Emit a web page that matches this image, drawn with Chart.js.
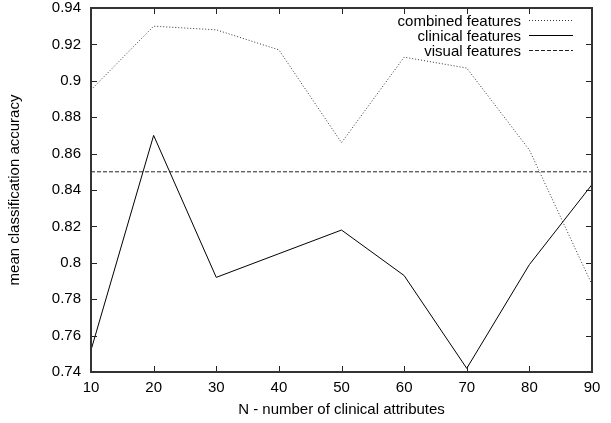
<!DOCTYPE html>
<html>
<head>
<meta charset="utf-8">
<script src="https://cdn.jsdelivr.net/npm/chart.js@4"></script>
<style>
  html, body { margin: 0; padding: 0; background: #fff; }
  #myChart { display: block; }
</style>
</head>
<body>
<canvas id="myChart" width="611" height="423"></canvas>
<script>
// values
var xValues = [10, 20, 30, 40, 50, 60, 70, 80, 90];
var combinedAcc = [0.895, 0.930, 0.928, 0.917, 0.866, 0.913, 0.907, 0.862, 0.788];
var clinicalAcc = [0.752, 0.870, 0.792, 0.805, 0.818, 0.793, 0.742, 0.799, 0.843];
var visualAcc = [0.85, 0.85, 0.85, 0.85, 0.85, 0.85, 0.85, 0.85, 0.85];
var seriesNames = ["combined features", "clinical features", "visual features"];

var FONT = "'Liberation Sans', Arial, Helvetica, sans-serif";
var FSIZE = 15;

function toPoints(ys) {
  return xValues.map(function (x, i) { return { x: x, y: ys[i] }; });
}

// gnuplot style frame, mirrored inward ticks and key
var gnuplotFrame = {
  id: "gnuplotFrame",
  afterDraw: function (chart) {
    var ctx = chart.ctx;
    var a = chart.chartArea;
    var xs = chart.scales.x, ys = chart.scales.y;
    ctx.save();
    ctx.strokeStyle = "#222";
    ctx.lineWidth = 1;
    xs.ticks.forEach(function (t) {
      var px = Math.round(xs.getPixelForValue(t.value)) + 0.5;
      ctx.beginPath();
      ctx.moveTo(px, a.bottom); ctx.lineTo(px, a.bottom - 6);
      ctx.moveTo(px, a.top); ctx.lineTo(px, a.top + 6);
      ctx.stroke();
    });
    ys.ticks.forEach(function (t) {
      var py = Math.round(ys.getPixelForValue(t.value)) + 0.5;
      ctx.beginPath();
      ctx.moveTo(a.left, py); ctx.lineTo(a.left + 6, py);
      ctx.moveTo(a.right, py); ctx.lineTo(a.right - 6, py);
      ctx.stroke();
    });
    ctx.strokeStyle = "#333";
    ctx.lineWidth = 2;
    ctx.strokeRect(a.left, a.top, a.right - a.left, a.bottom - a.top);

    // key, top right
    ctx.font = FSIZE + "px " + FONT;
    ctx.fillStyle = "#000";
    ctx.textAlign = "right";
    ctx.textBaseline = "alphabetic";
    chart.data.datasets.forEach(function (ds, i) {
      var y = 20 + i * 15;
      ctx.fillText(ds.label, 521, y + 6.3);
      ctx.beginPath();
      ctx.lineWidth = 1;
      ctx.strokeStyle = ds.borderColor;
      ctx.setLineDash(ds.borderDash || []);
      ctx.moveTo(529, y + 0.5);
      ctx.lineTo(573, y + 0.5);
      ctx.stroke();
    });
    ctx.restore();
  }
};

var dataset = [
  {
    label: seriesNames[0],
    data: toPoints(combinedAcc),
    borderColor: "#333",
    borderWidth: 1,
    borderDash: [1, 2],
    pointRadius: 0,
    tension: 0,
    fill: false
  },
  {
    label: seriesNames[1],
    data: toPoints(clinicalAcc),
    borderColor: "#000",
    borderWidth: 1,
    pointRadius: 0,
    tension: 0,
    fill: false
  },
  {
    label: seriesNames[2],
    data: toPoints(visualAcc),
    borderColor: "#222",
    borderWidth: 1,
    borderDash: [4, 2],
    pointRadius: 0,
    tension: 0,
    fill: false
  }
];

var chart = new Chart(document.getElementById("myChart"), {
  type: "line",
  data: { datasets: dataset },
  options: {
    responsive: false,
    animation: false,
    layout: { padding: { top: 8, right: 19, left: 0, bottom: 0 } },
    plugins: { legend: { display: false }, tooltip: { enabled: false } },
    scales: {
      x: {
        type: "linear",
        min: 10,
        max: 90,
        ticks: { stepSize: 10, color: "#000", font: { family: FONT, size: FSIZE }, padding: 7, maxRotation: 0 },
        grid: { display: false, drawTicks: false },
        border: { display: false },
        title: { display: true, text: "N - number of clinical attributes", color: "#000", font: { family: FONT, size: FSIZE }, padding: { top: 4, bottom: 4 } },
        afterFit: function (s) { s.height = 51; s.paddingLeft = 0; s.paddingRight = 0; }
      },
      y: {
        min: 0.74,
        max: 0.94,
        ticks: {
          stepSize: 0.02,
          color: "#000",
          font: { family: FONT, size: FSIZE },
          padding: 10,
          callback: function (v) { return String(+v.toFixed(2)); }
        },
        grid: { display: false, drawTicks: false },
        border: { display: false },
        title: { display: true, text: "mean classification accuracy", color: "#000", font: { family: FONT, size: FSIZE }, padding: { top: 6, bottom: 6 } },
        afterFit: function (s) { s.width = 91; s.paddingTop = 0; s.paddingBottom = 0; }
      }
    }
  },
  plugins: [gnuplotFrame]
});
</script>
</body>
</html>
